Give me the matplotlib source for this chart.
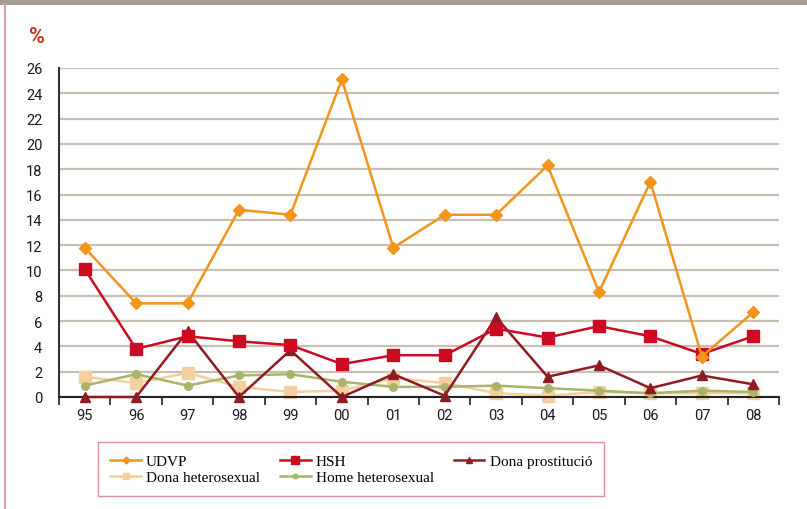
import matplotlib
matplotlib.use("Agg")
import matplotlib.pyplot as plt
from matplotlib.lines import Line2D
from matplotlib.patches import Rectangle

# Data: HIV prevalence (%) by transmission group, 1995-2008
years = ["95", "96", "97", "98", "99", "00", "01", "02", "03", "04", "05", "06", "07", "08"]
udvp = [11.8, 7.4, 7.4, 14.8, 14.4, 25.1, 11.8, 14.4, 14.4, 18.3, 8.3, 17.0, 3.2, 6.7]
hsh = [10.1, 3.8, 4.8, 4.4, 4.1, 2.6, 3.3, 3.3, 5.4, 4.7, 5.6, 4.8, 3.4, 4.8]
dona_prost = [0.0, 0.0, 5.2, 0.0, 3.7, 0.0, 1.8, 0.1, 6.3, 1.6, 2.5, 0.7, 1.7, 1.0]
dona_het = [1.6, 1.1, 1.9, 0.8, 0.4, 0.5, 1.5, 1.1, 0.3, 0.1, 0.4, 0.3, 0.3, 0.3]
home_het = [0.9, 1.8, 0.9, 1.7, 1.8, 1.2, 0.8, 0.8, 0.9, 0.7, 0.5, 0.3, 0.5, 0.4]
yticks = list(range(0, 27, 2))

fig = plt.figure(figsize=(8.07, 5.10), dpi=100)
W, H = 807, 510

# Page decoration: grey band on top and pink rule on the left
fig.patches.append(Rectangle((0, 1 - 6 / H), 1, 6 / H, transform=fig.transFigure,
                             facecolor="#a69e92", edgecolor="none", zorder=0))
fig.add_artist(Line2D([4.5 / W, 4.5 / W], [0, 1 - 6 / H], transform=fig.transFigure,
                      color="#d8a3aa", lw=1.5))

ax = fig.add_axes([59 / W, 1 - 398 / H, 720 / W, (398 - 69) / H])
x = list(range(len(years)))

tick_font = dict(family="Roboto", size=10.5, color="#1a1a1a")

ax.set_xlim(-0.5, len(years) - 0.5)
ax.set_ylim(0, 26)
ax.set_yticks(yticks)
ax.set_yticklabels([str(v) for v in yticks], **tick_font)
ax.set_xticks(x)
ax.set_xticklabels(years, **tick_font)
ax.set_xticks([i - 0.5 for i in range(len(years) + 1)], minor=True)
ax.tick_params(axis="x", which="major", length=0, pad=8)
ax.tick_params(axis="x", which="minor", length=6, width=1.2, direction="out", color="#222222")
ax.tick_params(axis="y", length=0, pad=12)

for s in ["top", "right"]:
    ax.spines[s].set_visible(False)
ax.spines["left"].set_color("#333333")
ax.spines["left"].set_linewidth(1.5)
ax.spines["bottom"].set_color("#222222")
ax.spines["bottom"].set_linewidth(1.5)

ax.yaxis.grid(True, color="#c6bfb4", lw=1.6)
ax.set_axisbelow(True)

series = [
    ("UDVP", udvp, "#f3951b", "D", 6, 1.8),
    ("Dona heterosexual", dona_het, "#f6cf9f", "s", 8, 1.8),
    ("HSH", hsh, "#cc0a22", "s", 8.5, 1.8),
    ("Home heterosexual", home_het, "#a9b46a", "o", 5.5, 1.8),
    ("Dona prostitució", dona_prost, "#8e1b22", "^", 7.5, 1.8),
]
zorders = {"UDVP": 6, "HSH": 5, "Dona prostitució": 4, "Dona heterosexual": 2, "Home heterosexual": 3}
handles = []
for name, vals, col, mk, ms, lw in series:
    ln, = ax.plot(x, vals, color=col, marker=mk, markersize=ms, lw=lw,
                  label=name, clip_on=False, zorder=zorders[name])
    handles.append(ln)

fig.text(29 / W, 1 - 37 / H, "%", color="#c23a1c", fontsize=15.5, fontweight="bold",
         family="Roboto", va="center", ha="left")

leg = fig.legend(handles=handles, loc="upper left",
                 bbox_to_anchor=(98 / W, 1 - 443 / H), ncol=3, frameon=True,
                 prop=dict(family="Liberation Serif", size=11),
                 handlelength=2.0, handletextpad=0.35, columnspacing=1.3,
                 labelspacing=0.15, borderpad=0.8, borderaxespad=0,
                 fancybox=False, markerscale=0.6)
leg.get_frame().set_edgecolor("#c9757f")
leg.get_frame().set_linewidth(1.0)

fig.savefig("out.png", dpi=100)
